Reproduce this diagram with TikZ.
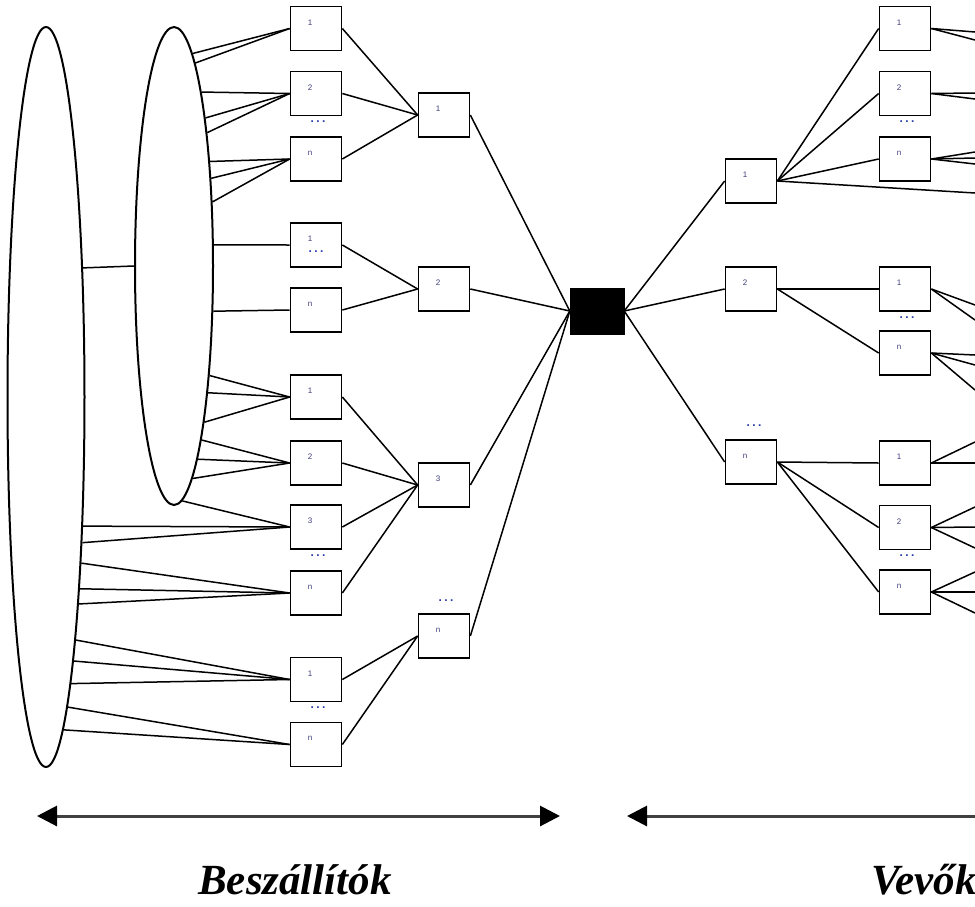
\documentclass[tikz,border=0pt]{standalone}
\usepackage{fontspec}
\setmainfont{Liberation Serif}
\newfontfamily\boxfont{Liberation Sans}
\usetikzlibrary{arrows.meta, shapes.geometric}
\definecolor{lblblue}{RGB}{60,60,120}
\definecolor{dotblue}{RGB}{40,60,170}
\tikzset{
  cell/.style={draw, line width=1.7pt, minimum width=51pt, minimum height=44pt, inner sep=0pt,
    label={[font=\boxfont\fontsize{8}{9}\selectfont, text=lblblue, xshift=-6pt, yshift=6pt]center:#1}},
  group/.style={draw, ellipse, line width=2pt, inner sep=0pt},
  moredots/.style={font=\boxfont\fontsize{12}{12}\selectfont\bfseries, text=dotblue, inner sep=0pt},
  link/.style={line width=1.5pt},
  span/.style={line width=3pt, black!75},
}
\newcommand{\dotrow}{.\kern2.5pt.\kern2.5pt.}

\begin{document}
\begin{tikzpicture}[x=1pt, y=-1pt]
\useasboundingbox (0,0) rectangle (975,906);

% supplier groups
\node[group, minimum width=77pt, minimum height=740pt] (be) at (46,397) {};
\node[group, minimum width=78pt, minimum height=478pt] (se) at (174,266) {};

% boxes
\foreach \nm/\x/\y/\t in {L1/316/28.5/1, L2/316/93.5/2, L3/316/159/n, L4/316/245/1, L5/316/310/n,
    L6/316/397/1, L7/316/463/2, L8/316/527/3, L9/316/593/n, L10/316/679.5/1, L11/316/744.5/n,
    M1/444/115/1, M2/444/289/2, M3/444/485/3, M4/444/636/n,
    R1/751/181/1, R2/751/289/2, R3/751/462/n,
    F1/905/28.5/1, F2/905/93.5/2, F3/905/159/n, F4/905/289/1, F5/905/353/n,
    F6/905/463/1, F7/905/527.5/2, F8/905/592/n}
  \node[cell=\t] (\nm) at (\x,\y) {};

\node[fill, draw, minimum width=54pt, minimum height=46pt, inner sep=0pt] (hub) at (597,311) {};

% dots
\foreach \p [count=\k] in {(318,122), (316,252), (318,556), (318,708), (446,601),
    (907,122), (754,426), (907,318), (907,556)}
  \node[moredots] (d\k) at \p {\dotrow};

% box to box
\foreach \a/\b in {L1/M1, L2/M1, L3/M1, L4/M2, L5/M2, L6/M3, L7/M3, L8/M3, L9/M3, L10/M4, L11/M4,
    M1/hub, M2/hub, M3/hub, M4/hub, hub/R1, hub/R2, hub/R3,
    R1/F1, R1/F2, R1/F3, R2/F4, R2/F5, R3/F6, R3/F7, R3/F8}
  \draw[link] (\a.east) -- (\b.west);

% small ellipse fans
\foreach \yy/\b in {47/L1, 63/L1, 92/L2, 115/L2, 135/L2, 159/L3, 180/L3, 202/L3, 245/L4, 311/L5,
    375/L6, 396/L6, 420/L6, 444/L7, 461/L7, 484/L7, 503/L8} {
  \pgfmathsetmacro\dy{266-\yy}
  \pgfmathsetmacro\ang{atan2(\dy, 39*sqrt(1-(\dy/239)^2))}
  \draw[link] (se.\ang) -- (\b.west);
}

% big ellipse fans
\foreach \yy/\b in {528/L8, 549/L8, 570/L9, 591/L9, 614/L9, 655/L10, 680/L10, 700/L10, 723/L11, 746/L11} {
  \pgfmathsetmacro\dy{397-\yy}
  \pgfmathsetmacro\ang{atan2(\dy, 38.5*sqrt(1-(\dy/370)^2))}
  \draw[link] (be.\ang) -- (\b.west);
}
\pgfmathsetmacro\ang{atan2(130, 38.5*sqrt(1-(130/370)^2))}
\draw[link] (be.\ang) -- (se.west);

% lines leaving the right edge
\foreach \a/\yy [count=\k] in {F1/32, F1/40, F2/93, F2/99, F3/152, F3/158, F3/164, R1/193,
    F4/305, F4/320, F5/355, F5/365, F5/390, F6/442, F6/463,
    F7/507, F7/527, F7/548, F8/572, F8/592, F8/613} {
  \coordinate (out\k) at (975,\yy);
  \draw[link] (\a.east) -- (out\k);
}

% arrows and captions
\coordinate (sl) at (37,816);
\coordinate (sr) at (560,816);
\coordinate (vl) at (627,816);
\coordinate (vr) at (990,816);
\draw[span, {Triangle[length=20pt,width=20pt,black]}-{Triangle[length=20pt,width=20pt,black]}] (sl) -- (sr);
\draw[span, {Triangle[length=20pt,width=20pt,black]}-] (vl) -- (vr);

\node[font=\fontsize{43}{43}\selectfont\bfseries\itshape, anchor=base] (besz) at (295,894) {Beszállítók};
\node[font=\fontsize{43}{43}\selectfont\bfseries\itshape, anchor=base west] (vevok) at (868,894) {Vevők};
\end{tikzpicture}
\end{document}
